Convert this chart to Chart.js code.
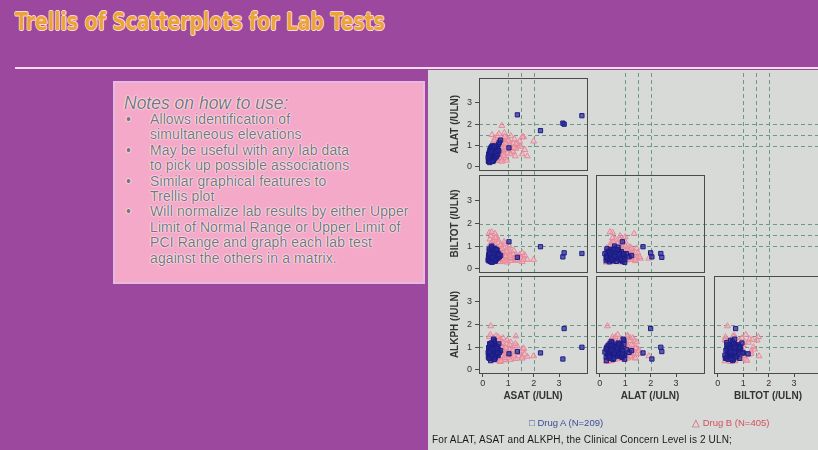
<!DOCTYPE html>
<html>
<head>
<meta charset="utf-8">
<script src="https://cdn.jsdelivr.net/npm/chart.js@4.4.1/dist/chart.umd.min.js"></script>
<style>
  html, body { margin: 0; padding: 0; width: 818px; height: 450px; overflow: hidden; background: #9d489f; font-family: "Liberation Sans", Arial, sans-serif; }
  #title { position: absolute; left: 15px; top: 8px; font: bold 24px "DejaVu Sans", sans-serif; color: #eca43a; white-space: nowrap; transform-origin: 0 0;
    text-shadow: 1px 0 0 #fbdcd2, -1px 0 0 #fbdcd2, 0 1px 0 #fbdcd2, 0 -1px 0 #fbdcd2; }
  #rule { position: absolute; left: 15px; top: 67px; width: 803px; height: 2px; background: #f6dbe6; }
  #notes { position: absolute; left: 113px; top: 81px; width: 308px; height: 199px; background: #f5a9c9; border: 2px solid #e7b9e2; color: #7c7379;
    text-shadow: 0 0 1px #fff, 0 0 1px #fff, 0 0 2px #fff; }
  #notes .head { position: absolute; left: 9px; top: 10px; font: italic 17.5px "Liberation Sans", Arial, sans-serif; }
  #notes ul { position: absolute; left: 9px; top: 29px; margin: 0; padding: 0; list-style: none; font-size: 14px; letter-spacing: 0.1px; line-height: 15.4px; }
  #notes li { position: relative; padding-left: 26px; }
  #notes li::before { content: "\2022"; position: absolute; left: 2px; }
  #panel { position: absolute; left: 428px; top: 70px; width: 390px; height: 380px; background: #d8dad8; }
  #trellis canvas { position: absolute; left: 0; top: 0; }
  #legend { position: absolute; top: 347px; left: 0; width: 390px; font-size: 9.5px; }
  #legend span { position: absolute; white-space: nowrap; }
  #foot { position: absolute; left: 4px; top: 364px; font-size: 10px; letter-spacing: 0.15px; color: #1a1a1a; white-space: nowrap; }
</style>
</head>
<body>
<div id="title">Trellis of Scatterplots for Lab Tests</div>
<div id="rule"></div>
<div id="notes">
  <div class="head">Notes on how to use:</div>
  <ul>
    <li>Allows identification of<br>simultaneous elevations</li>
    <li>May be useful with any lab data<br>to pick up possible associations</li>
    <li>Similar graphical features to<br>Trellis plot</li>
    <li>Will normalize lab results by either Upper<br>Limit of Normal Range or Upper Limit of<br>PCI Range and graph each lab test<br>against the others in a matrix.</li>
  </ul>
</div>
<div id="panel">
  <div id="trellis"></div>
  <div id="legend">
    <span style="left:101px; color:#3b4d98;">&#9633; Drug A (N=209)</span>
    <span style="left:264px; color:#d4505e;">&#9651; Drug B (N=405)</span>
  </div>
  <div id="foot">For ALAT, ASAT and ALKPH, the Clinical Concern Level is 2 ULN;</div>
</div>
<script>
// lab values normalised by ULN, one entry per subject
const asatA = [0.22, 0.25, 0.28, 0.30, 0.32, 0.35, 0.38, 0.40, 0.42, 0.45, 0.48, 0.50, 0.52, 0.55, 0.58, 0.27, 0.33, 0.36, 0.41, 0.44,
  0.47, 0.24, 0.29, 0.34, 0.39, 0.43, 0.46, 0.51, 0.53, 0.60, 0.62, 0.65, 0.31, 0.37, 0.26, 0.49, 0.56, 0.70, 0.35, 0.45,
  0.21, 0.23, 0.26, 0.28, 0.30, 0.32, 0.34, 0.36, 0.38, 0.40, 0.41, 0.43, 0.44, 0.46, 0.48, 0.50, 0.52, 0.54, 0.57, 0.59,
  0.25, 0.29, 0.33, 0.37, 0.42, 0.47, 0.53, 0.63, 0.27, 0.39,
  3.90, 3.15, 3.20, 1.36, 2.27, 1.03];
const alatA = [0.25, 0.30, 0.35, 0.32, 0.45, 0.50, 0.55, 0.60, 0.65, 0.70, 0.75, 0.80, 0.85, 0.90, 0.95, 0.40, 0.38, 0.42, 0.48, 0.52,
  0.58, 0.28, 0.50, 0.62, 0.70, 0.35, 0.45, 0.55, 0.68, 0.78, 1.05, 1.15, 0.26, 0.33, 0.36, 0.88, 0.72, 1.25, 0.58, 0.95,
  0.45, 0.60, 0.70, 0.80, 0.78, 0.90, 0.85, 0.95, 0.30, 0.35, 0.28, 0.40, 0.45, 0.38, 0.50, 0.45, 0.55, 0.48, 0.62, 0.58,
  0.55, 0.65, 0.72, 0.98, 0.92, 0.98, 0.70, 0.75, 0.20, 0.25,
  2.40, 2.05, 2.00, 2.44, 1.70, 0.89];
const biltotA = [0.35, 0.45, 0.55, 0.40, 0.60, 0.50, 0.70, 0.45, 0.80, 0.55, 0.65, 0.40, 0.75, 0.50, 0.60, 0.65, 0.30, 0.85, 0.35, 0.62,
  0.90, 0.52, 0.72, 0.48, 0.58, 0.42, 0.68, 0.38, 0.55, 0.47, 0.66, 0.52, 0.58, 0.44, 0.78, 0.33, 0.82, 0.58, 1.00, 0.50,
  0.40, 0.62, 0.48, 0.36, 0.70, 0.55, 0.42, 0.62, 0.75, 0.52, 0.88, 0.46, 0.58, 0.72, 0.36, 0.64, 0.54, 0.44, 0.70, 0.56,
  0.86, 0.32, 0.95, 0.28, 0.66, 0.40, 0.84, 0.62, 0.66, 0.50,
  0.67, 0.52, 0.70, 0.50, 0.97, 1.19];
const alkphA = [0.55, 0.70, 0.80, 0.65, 0.90, 1.00, 0.75, 0.85, 1.10, 0.60, 0.95, 0.70, 1.05, 0.80, 0.65, 1.15, 0.50, 0.95, 1.20, 0.45,
  0.88, 0.92, 0.58, 0.78, 1.02, 0.68, 0.82, 0.98, 0.72, 0.62, 0.88, 0.76, 0.40, 1.08, 0.66, 0.54, 0.92, 0.84, 0.74, 1.30,
  0.75, 0.98, 0.62, 1.10, 0.72, 0.84, 0.58, 1.12, 0.90, 0.66, 1.00, 0.80, 1.25, 0.56, 0.94, 1.08, 0.68, 0.86, 1.02, 0.74,
  0.50, 0.86, 1.18, 0.64, 1.35, 0.46, 0.96, 1.14, 0.78, 0.92,
  0.99, 0.47, 1.82, 0.80, 0.74, 0.70];

const asatB = [0.30, 0.35, 0.40, 0.45, 0.50, 0.55, 0.60, 0.65, 0.70, 0.75, 0.80, 0.85, 0.90, 0.95, 1.00, 1.05, 1.10, 1.20, 1.25, 1.40,
  0.28, 0.32, 0.38, 0.42, 0.48, 0.26, 0.52, 0.58, 0.62, 0.68, 0.72, 0.78, 0.82, 0.88, 0.92, 0.98, 1.15, 1.30, 1.45, 1.55,
  0.33, 0.44, 0.57, 0.66, 0.76, 0.23, 0.36, 1.60, 1.75, 0.85,
  0.45, 0.55, 0.62, 0.70, 0.80, 0.90, 1.00, 1.10, 1.20, 1.35, 0.40, 0.52, 0.60, 0.72, 0.84, 0.96, 1.08, 1.22, 1.50, 0.30,
  0.36, 0.46, 0.64, 0.74, 0.94, 1.05, 1.28, 0.58, 0.86, 1.65,
  0.75, 1.30, 0.50, 0.31, 1.60, 2.00, 1.55, 0.35];
const alatB = [0.35, 0.45, 0.30, 0.55, 0.40, 0.65, 0.50, 0.75, 0.60, 0.85, 0.70, 0.95, 0.80, 1.05, 0.90, 1.20, 0.95, 1.10, 1.30, 1.00,
  0.60, 0.80, 1.00, 1.20, 1.35, 0.50, 1.10, 1.45, 0.45, 0.30, 1.25, 0.55, 1.15, 0.40, 1.35, 0.65, 0.75, 0.85, 1.20, 0.60,
  0.25, 0.70, 0.90, 1.05, 0.35, 0.45, 1.50, 1.40, 0.50, 1.60,
  0.85, 1.00, 1.20, 0.95, 1.30, 1.10, 1.25, 1.45, 0.70, 1.10, 0.50, 0.28, 0.62, 0.42, 0.52, 0.85, 0.60, 0.90, 0.95, 0.70,
  0.95, 1.25, 1.55, 0.25, 0.30, 1.00, 0.50, 0.80, 1.40, 0.80,
  1.93, 1.08, 0.50, 0.30, 1.40, 1.20, 1.40, 0.40];
const biltotB = [0.40, 0.55, 0.70, 0.35, 0.85, 0.60, 0.45, 1.00, 0.30, 0.75, 0.55, 1.10, 0.40, 0.65, 0.50, 0.80, 0.35, 0.60, 0.45, 0.55,
  1.30, 1.45, 1.20, 0.95, 1.55, 1.60, 0.65, 0.90, 1.15, 0.50, 0.70, 0.38, 0.95, 0.60, 0.48, 0.72, 0.42, 0.36, 0.62, 0.30,
  0.28, 0.50, 0.78, 0.58, 0.88, 0.62, 0.70, 0.52, 0.40, 0.45,
  1.25, 1.40, 0.85, 1.05, 0.70, 0.55, 0.90, 0.48, 0.65, 0.38, 1.05, 0.92, 0.30, 0.68, 1.20, 0.28, 0.58, 0.80, 0.46, 1.10,
  0.82, 0.60, 0.52, 0.42, 0.76, 1.00, 0.52, 1.30, 0.34, 0.60,
  0.45, 0.60, 1.36, 0.38, 0.40, 0.40, 0.70, 1.62];
const alkphB = [0.50, 0.60, 0.75, 0.95, 1.10, 1.25, 0.55, 0.85, 1.35, 0.65, 1.00, 0.45, 0.80, 1.15, 0.60, 0.90, 0.70, 0.50, 1.05, 0.62,
  0.70, 0.90, 1.20, 1.40, 1.30, 1.45, 1.50, 0.95, 0.40, 0.35, 1.10, 0.58, 0.78, 0.42, 0.68, 0.52, 0.88, 0.48, 0.75, 0.55,
  0.38, 1.05, 0.72, 0.65, 1.18, 0.88, 0.82, 0.92, 0.58, 0.70,
  1.35, 1.00, 1.28, 0.62, 1.40, 0.95, 0.72, 1.22, 0.85, 1.05, 1.25, 0.48, 1.45, 0.38, 0.66, 1.30, 0.44, 0.60, 0.82, 1.55,
  1.05, 0.55, 0.85, 1.00, 0.74, 1.10, 1.15, 0.80, 0.52, 0.68,
  0.60, 1.48, 1.33, 1.93, 0.95, 0.60, 0.50, 0.60];

const tickValues = [0, 1, 2, 3];
const refLevels = [1, 1.5, 2];   // concern levels drawn as dashed lines
const panels = [
  { x: "ASAT", y: "ALKPH", row: 2, col: 0 },
  { x: "ALAT", y: "ALKPH", row: 2, col: 1 },
  { x: "BILTOT", y: "ALKPH", row: 2, col: 2 },
  { x: "ASAT", y: "BILTOT", row: 1, col: 0 },
  { x: "ALAT", y: "BILTOT", row: 1, col: 1 },
  { x: "ASAT", y: "ALAT", row: 0, col: 0 },
];

const drugA = { ASAT: asatA, ALAT: alatA, BILTOT: biltotA, ALKPH: alkphA };
const drugB = { ASAT: asatB, ALAT: alatB, BILTOT: biltotB, ALKPH: alkphB };

// layout of the lattice inside the grey panel
const W = 400, H = 335;
const colLeft = [51, 168, 286];
const rowTop = [3, 105, 206];
const cellW = 108, cellH = 97;

const pairs = (drug, xName, yName) => drug[xName].map((v, i) => ({ x: v, y: drug[yName][i] }));

const latticePlugin = {
  id: "lattice",
  beforeDatasetsDraw(chart, args, opts) {
    const { ctx, chartArea: a, scales } = chart;
    ctx.save();
    ctx.strokeStyle = "#6b9a86";
    ctx.lineWidth = 1;
    ctx.setLineDash([4, 3]);
    ctx.beginPath();
    if (opts.horizontal) {
      refLevels.forEach(v => {
        const y = Math.round(scales.y.getPixelForValue(v)) + 0.5;
        ctx.moveTo(a.left, y);
        ctx.lineTo(chart.width, y);
      });
    }
    if (opts.vertical) {
      refLevels.forEach(v => {
        const x = Math.round(scales.x.getPixelForValue(v)) + 0.5;
        ctx.moveTo(x, rowTop[0]);
        ctx.lineTo(x, a.bottom);
      });
    }
    ctx.stroke();
    ctx.restore();
  },
  afterDatasetsDraw(chart) {
    const { ctx, chartArea: a } = chart;
    ctx.save();
    ctx.strokeStyle = "#4a4a4a";
    ctx.lineWidth = 1;
    ctx.strokeRect(Math.round(a.left) + 0.5, Math.round(a.top) + 0.5, Math.round(a.width), Math.round(a.height));
    ctx.restore();
  },
};

const tickFont = { family: "Liberation Sans", size: 9 };
const titleFont = { family: "Liberation Sans", size: 10, weight: "bold" };

const makePanel = (p) => {
  const canvas = document.createElement("canvas");
  canvas.width = W;
  canvas.height = H;
  document.getElementById("trellis").appendChild(canvas);

  const isLeft = p.col === 0;
  const isBottom = p.row === 2;
  const yW = isLeft ? 34 : 0;
  const xH = isBottom ? 33 : 0;
  const left = colLeft[p.col];
  const top = rowTop[p.row];

  new Chart(canvas, {
    type: "scatter",
    data: {
      datasets: [
        {
          label: "Drug A (N=209)",
          data: pairs(drugA, p.x, p.y),
          pointStyle: "rect",
          pointRadius: 3,
          borderWidth: 1,
          borderColor: "#1d1d86",
          backgroundColor: "rgba(40, 40, 150, 0.7)",
        },
        {
          label: "Drug B (N=405)",
          data: pairs(drugB, p.x, p.y),
          pointStyle: "triangle",
          pointRadius: 3.4,
          borderWidth: 1,
          borderColor: "#e5899a",
          backgroundColor: "rgba(246, 178, 190, 0.45)",
        },
      ],
    },
    options: {
      responsive: false,
      animation: false,
      events: [],
      layout: {
        autoPadding: false,
        padding: { left: left - yW, top: top, right: W - left - cellW, bottom: H - top - cellH - xH },
      },
      plugins: {
        legend: { display: false },
        tooltip: { enabled: false },
        lattice: { horizontal: isLeft, vertical: isBottom },
      },
      scales: {
        x: {
          type: "linear",
          min: -0.15,
          max: 4.1,
          afterFit: s => { s.height = xH; },
          afterBuildTicks: s => { s.ticks = tickValues.map(v => ({ value: v })); },
          ticks: { display: isBottom, font: tickFont, color: "#333", padding: 1 },
          grid: { display: isBottom, drawOnChartArea: false, tickLength: 4, color: "#4a4a4a" },
          border: { display: false },
          title: { display: isBottom, text: p.x + " (/ULN)", font: titleFont, color: "#333", padding: { top: 3, bottom: 4 } },
        },
        y: {
          type: "linear",
          min: -0.15,
          max: 4.15,
          afterFit: s => { s.width = yW; },
          afterBuildTicks: s => { s.ticks = tickValues.map(v => ({ value: v })); },
          ticks: { display: isLeft, font: tickFont, color: "#333", padding: 3 },
          grid: { display: isLeft, drawOnChartArea: false, tickLength: 4, color: "#4a4a4a" },
          border: { display: false },
          title: { display: isLeft, text: p.y + " (/ULN)", font: titleFont, color: "#333", padding: 4 },
        },
      },
    },
    plugins: [latticePlugin],
  });
};

panels.forEach(makePanel);

// squeeze the heading to the width it has on the slide
const title = document.getElementById("title");
title.style.transform = "scaleX(" + (370 / title.offsetWidth) + ")";
</script>
</body>
</html>
